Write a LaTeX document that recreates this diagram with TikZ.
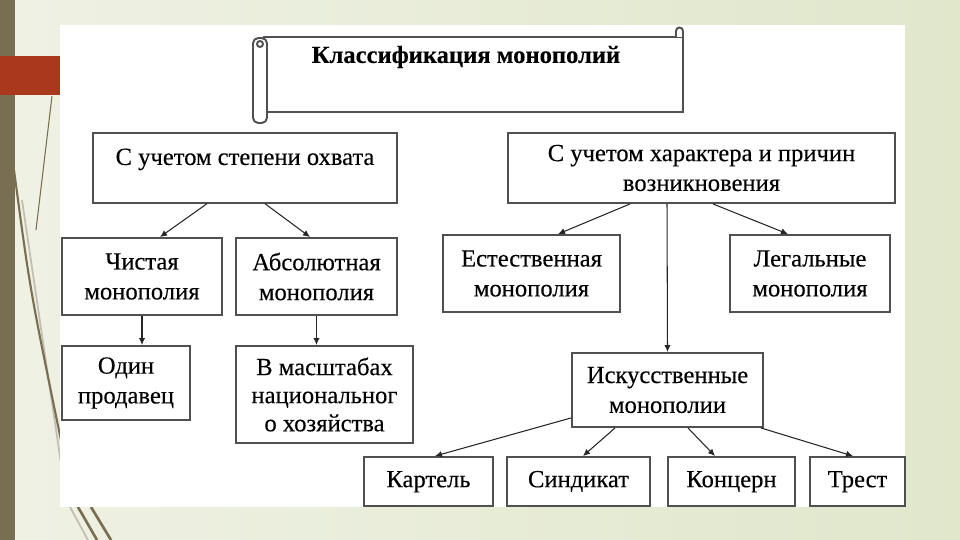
\documentclass[tikz,border=0pt]{standalone}
\usepackage{fontspec}
\setmainfont{Liberation Serif}[FakeBold=0.25]
\usetikzlibrary{arrows, arrows.meta, positioning}
\definecolor{bgleft}{RGB}{239,241,228}
\definecolor{bgright}{RGB}{224,231,203}
\definecolor{olive}{RGB}{122,110,82}
\definecolor{brick}{RGB}{170,56,28}
\definecolor{boxgray}{RGB}{80,80,80}

\begin{document}
\begin{tikzpicture}[x=0.02cm, y=-0.02cm,
    box/.style={draw=boxgray, line width=1.1pt, fill=white, align=center, inner sep=0pt,
                font=\fontsize{14}{17}\selectfont},
    oneline/.style={box, text height=9.5pt, text depth=3pt},
    arr/.style={draw=black!85, line width=0.6pt, -{Latex[length=4pt, width=3.6pt]}},
    scrl/.style={draw=boxgray, line width=1.1pt}]
    \useasboundingbox (0,0) rectangle (960,540);
    % slide background
    \shade[left color=bgleft, right color=bgright] (0,0) rectangle (960,540);
    \fill[olive] (0,0) rectangle (15,540);
    \fill[brick] (0,56) rectangle (60,95);
    \draw[olive, line width=0.6pt] (52,96) -- (36,230);
    \draw[olive!45, line width=1pt] (22,200) -- (62,470);
    \draw[olive, line width=1.2pt] (14,170) .. controls (30,290) .. (62,445);
    \draw[olive!45, line width=1pt] (70,507) -- (88,540);
    \draw[olive, line width=1.5pt] (78,507) -- (97,540);
    \draw[olive, line width=1.5pt] (91,507) -- (111,540);
    \fill[white] (60,25) rectangle (905,507);

    % title scroll
    \draw[scrl, fill=white] (264,37) -- (683,37) -- (683,112) -- (264,112) -- cycle;
    \draw[scrl, fill=white] (676,37) -- (676,31) arc[start angle=180, end angle=360, radius=3.5] -- (683,37);
    \draw[scrl, fill=white, rounded corners=3pt] (253,38) rectangle (267,123);
    \draw[scrl] (260,44) circle[radius=3];
    \node[font=\bfseries\fontsize{14}{17}\selectfont] (title) at (466,57) {Классификация монополий};

    % boxes
    \node[box, minimum width=6.08cm, text height=18pt, text depth=21.5pt] (degree) at (245,168) {С учетом степени охвата};
    \node[box, minimum width=7.74cm, minimum height=1.4cm] (origin) at (701.5,168) {С учетом характера и причин\\возникновения};
    \node[box, minimum width=3.2cm, minimum height=1.54cm] (pure) at (142,276.5) {Чистая\\монополия};
    \node[box, minimum width=3.22cm, minimum height=1.54cm] (absolute) at (316.5,276.5) {Абсолютная\\монополия};
    \node[box, minimum width=3.54cm, minimum height=1.54cm] (natural) at (531.5,273.5) {Естественная\\монополия};
    \node[box, minimum width=3.2cm, minimum height=1.54cm] (legal) at (810,273.5) {Легальные\\монополия};
    \node[box, minimum width=2.56cm, minimum height=1.48cm] (seller) at (126,383) {Один\\продавец};
    \node[box, minimum width=3.54cm, minimum height=1.94cm, font=\fontsize{14}{16}\selectfont] (national) at (324.5,394.5) {В масштабах\\национальног\\о хозяйства};
    \node[box, minimum width=3.82cm, minimum height=1.48cm] (artificial) at (667.5,390) {Искусственные\\монополии};
    \node[oneline, minimum width=2.58cm, minimum height=0.98cm] (cartel) at (428.5,481.5) {Картель};
    \node[oneline, minimum width=2.86cm, minimum height=0.98cm] (syndicate) at (578.5,481.5) {Синдикат};
    \node[oneline, minimum width=2.54cm, minimum height=0.98cm] (concern) at (731.5,481.5) {Концерн};
    \node[oneline, minimum width=1.9cm, minimum height=0.98cm] (trust) at (857.5,481.5) {Трест};

    % arrows
    \draw[arr] ([xshift=-0.76cm]degree.south) -- ([xshift=0.36cm]pure.north);
    \draw[arr] ([xshift=0.4cm]degree.south) -- ([xshift=-0.13cm]absolute.north);
    \draw[arr] (pure.south) -- (pure.south |- seller.north);
    \draw[arr] (absolute.south) -- (absolute.south |- national.north);
    \draw[arr] ([xshift=-1.43cm]origin.south) -- ([xshift=0.53cm]natural.north);
    \draw[arr] ([xshift=0.23cm]origin.south) -- ([xshift=-0.44cm]legal.north);
    \draw[arr] ([xshift=-0.69cm]origin.south) -- (artificial.north);
    \draw[arr] ([yshift=0.2cm]artificial.south west) -- ([xshift=0.13cm]cartel.north);
    \draw[arr] ([xshift=-1.05cm]artificial.south) -- ([xshift=0.09cm]syndicate.north);
    \draw[arr] ([xshift=0.41cm]artificial.south) -- ([xshift=-0.33cm]concern.north);
    \draw[arr] ([xshift=-0.06cm]artificial.south east) -- ([xshift=-0.09cm]trust.north);
\end{tikzpicture}
\end{document}
